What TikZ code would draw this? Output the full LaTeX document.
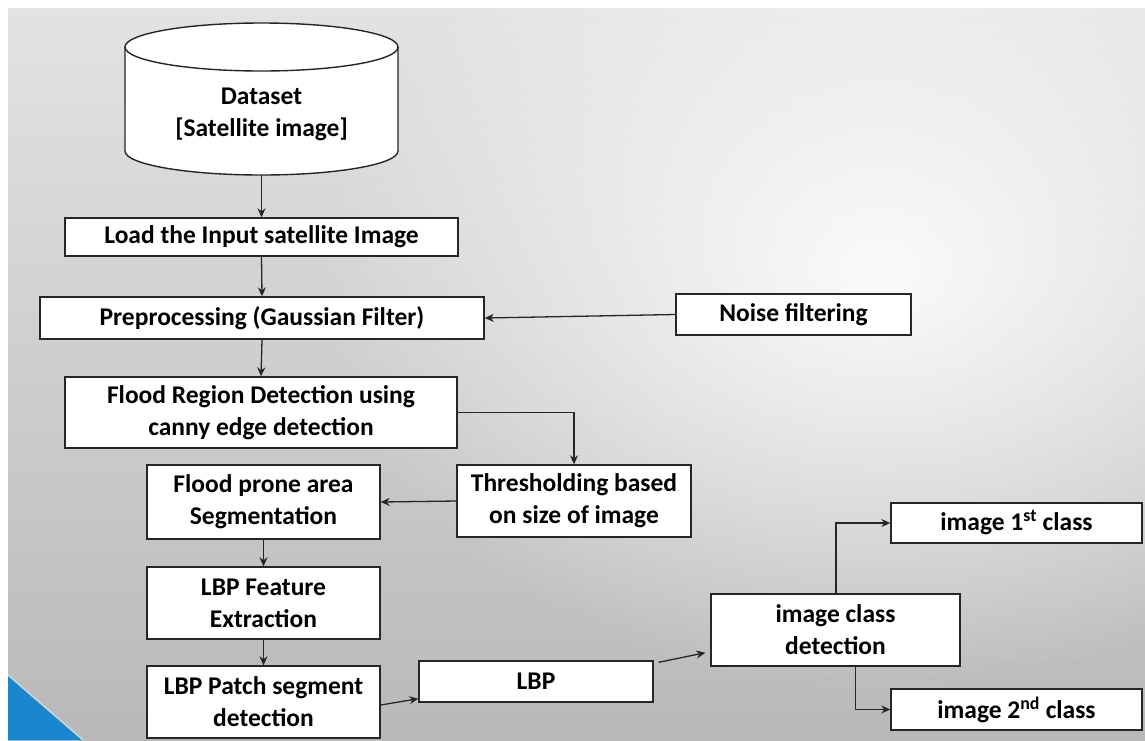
\documentclass[tikz,border=0pt]{standalone}
\usepackage{fontspec}
\setmainfont{Carlito}
\usetikzlibrary{arrows.meta,fadings}

\definecolor{cornerblue}{HTML}{1A86D0}
\tikzfading[name=glowfade, inner color=transparent!0, outer color=transparent!100]

\tikzset{
  box/.style={draw=black!85, fill=white, line width=1.4pt, inner sep=0pt,
    align=center, font=\fontsize{25.5}{32}\selectfont\bfseries},
  link/.style={-{Stealth[length=9pt,width=8pt]}, line width=1.3pt, black!85},
}

\begin{document}
\begin{tikzpicture}[x=1pt,y=1pt]
  \useasboundingbox (0,0) rectangle (1145,-740);
  % background
  \fill[white] (0,0) rectangle (1145,-740);
  \shade[top color=gray!22, bottom color=gray!55] (8,-8) rectangle (1145,-740);
  \begin{scope}
    \clip (8,-8) rectangle (1145,-740);
    \fill[white, opacity=0.9, path fading=glowfade] (880,-270) ellipse (560 and 420);
  \end{scope}
  \fill[cornerblue] (8,-675) -- (83,-740) -- (8,-740) -- cycle;
  \draw[cyan!35, line width=1.5pt] (8,-675) -- (83,-740);

  % dataset cylinder
  \draw[draw=black!85, fill=white, line width=1.4pt] (125,-47) -- (125,-151)
    arc[start angle=180, end angle=360, x radius=136.5, y radius=24] -- (398,-47)
    arc[start angle=0, end angle=180, x radius=136.5, y radius=24] -- cycle;
  \draw[black!85, line width=1.4pt] (125,-47)
    arc[start angle=180, end angle=360, x radius=136.5, y radius=24];
  \node[align=center, inner sep=0pt, minimum height=122pt,
    font=\fontsize{25.5}{32}\selectfont\bfseries] (data) at (261.5,-114)
    {Dataset\\{[Satellite image]}};

  % boxes
  \node[box, minimum width=393pt, minimum height=38pt] (load) at (261.5,-237) {Load the Input satellite Image};
  \node[box, minimum width=444pt, minimum height=42pt] (pre) at (262,-318) {Preprocessing (Gaussian Filter)};
  \node[box, minimum width=235pt, minimum height=41pt] (noise) at (793.5,-314.5) {Noise filtering};
  \node[box, minimum width=392pt, minimum height=71pt] (flood) at (261,-412.5) {Flood Region Detection using\\canny edge detection};
  \node[box, minimum width=234pt, minimum height=72pt] (thresh) at (574,-501) {Thresholding based\\on size of image};
  \node[box, minimum width=233pt, minimum height=74pt] (prone) at (263.5,-502) {Flood prone area\\Segmentation};
  \node[box, minimum width=233pt, minimum height=72pt] (feat) at (263.5,-603) {LBP Feature\\Extraction};
  \node[box, minimum width=233pt, minimum height=72pt] (patch) at (263.5,-702) {LBP Patch segment\\detection};
  \node[box, minimum width=234pt, minimum height=41pt] (lbp) at (536,-681.5) {LBP};
  \node[box, minimum width=249pt, minimum height=72pt] (cls) at (835.5,-630) {image class\\detection};
  \node[box, minimum width=251pt, minimum height=40pt] (first) at (1016.5,-523) {image 1\textsuperscript{st} class};
  \node[box, minimum width=251pt, minimum height=41pt] (second) at (1016.5,-709.5) {image 2\textsuperscript{nd} class};

  % connectors
  \draw[link] (data.south) -- (load.north);
  \draw[link] (load.south) -- (pre.north);
  \draw[link] (noise.west) -- (pre.east);
  \draw[link] (pre.south) -- (flood.north);
  \draw[link] (flood.east) -| (thresh.north);
  \draw[link] (thresh.west) -- (prone.east);
  \draw[link] (prone.south) -- (feat.north);
  \draw[link] (feat.south) -- (patch.north);
  \draw[link] ([yshift=-3pt]patch.east) -- ([yshift=4pt]lbp.south west);
  \draw[link] ([xshift=5pt,yshift=-2pt]lbp.north east) -- ([xshift=-5pt,yshift=14pt]cls.south west);
  \draw[link] ([xshift=0.5pt]cls.north) |- (first.west);
  \draw[link] ([xshift=20pt]cls.south) |- (second.west);
\end{tikzpicture}
\end{document}
